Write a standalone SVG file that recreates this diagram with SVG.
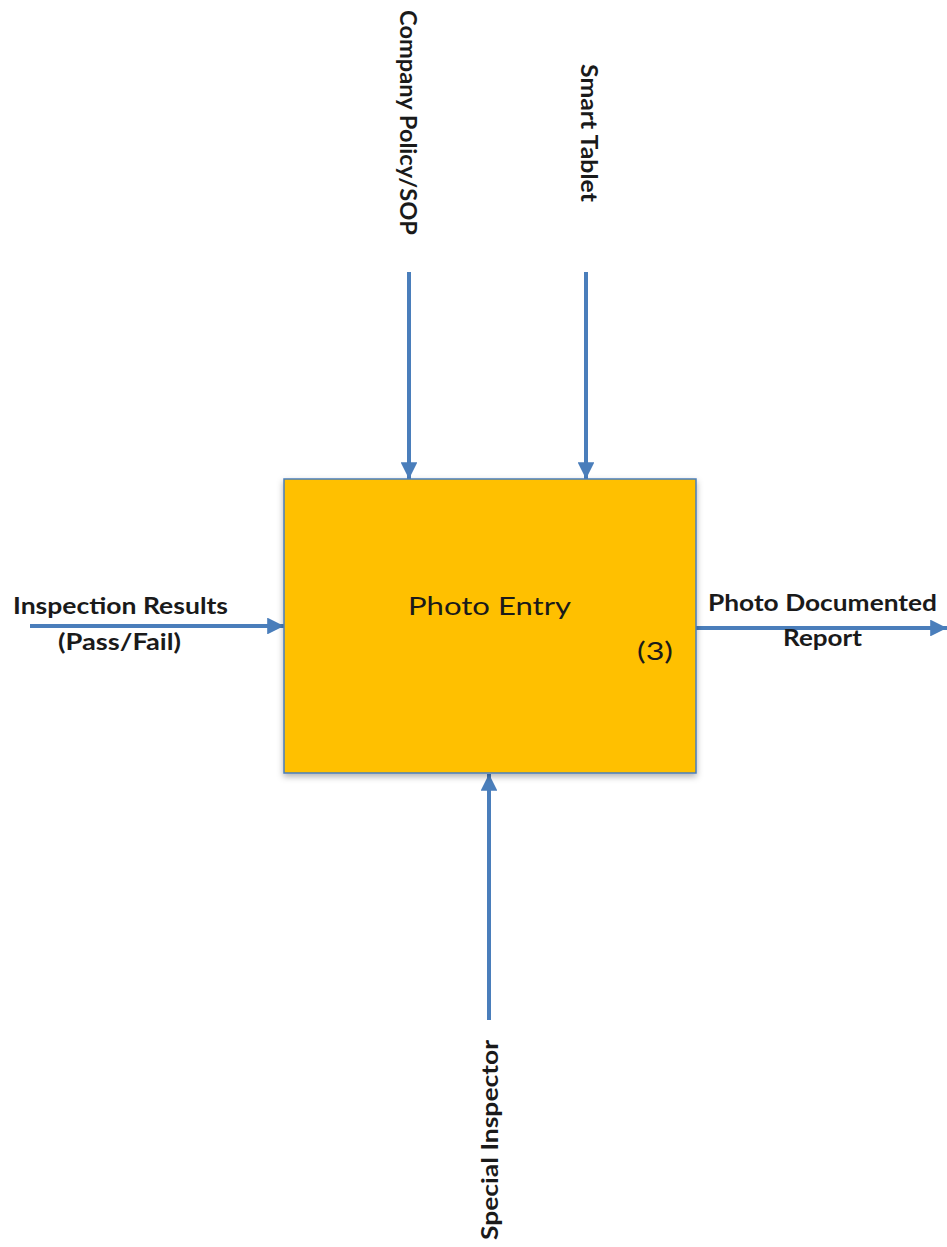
<svg xmlns="http://www.w3.org/2000/svg" width="947" height="1247" viewBox="0 0 947 1247">
<style>
.lbl{font-family:Lato,"Open Sans","Liberation Sans",sans-serif;font-weight:bold;font-size:22.5px;fill:#1a1a1a}
.reg{font-family:Lato,"Open Sans","Liberation Sans",sans-serif;font-size:25px;fill:#1a1a1a}
.conn{stroke:#4A7EBB;stroke-width:4;fill:none}
</style>
<defs>
<marker id="ah" viewBox="0 0 10 10" refX="10" refY="5" markerWidth="4.2" markerHeight="4.2" markerUnits="strokeWidth" orient="auto">
<path d="M0,0 L10,5 L0,10 Z" fill="#4A7EBB"/>
</marker>
<filter id="sh" x="-10%" y="-10%" width="120%" height="130%">
<feDropShadow dx="0" dy="3" stdDeviation="3" flood-color="#000" flood-opacity="0.3"/>
</filter>
</defs>
<g id="connectors">
<line class="conn" x1="409" y1="272" x2="409" y2="479" marker-end="url(#ah)"/>
<line class="conn" x1="586" y1="272" x2="586" y2="479" marker-end="url(#ah)"/>
<line class="conn" x1="30" y1="626" x2="284" y2="626" marker-end="url(#ah)"/>
<line class="conn" x1="696" y1="628" x2="947" y2="628" marker-end="url(#ah)"/>
<line class="conn" x1="489" y1="1020" x2="489" y2="774" marker-end="url(#ah)"/>
</g>
<g id="photo-entry">
<rect x="284" y="479" width="412" height="294" fill="#FFC000" stroke="#4A7EBB" stroke-width="1.5" filter="url(#sh)"/>
<text class="reg" x="408" y="615" textLength="163" lengthAdjust="spacingAndGlyphs">Photo Entry</text>
<text class="reg" x="637" y="660" textLength="36" lengthAdjust="spacingAndGlyphs">(3)</text>
</g>
<g id="label-company-policy">
<text class="lbl" transform="translate(400,10) rotate(90)" textLength="225" lengthAdjust="spacingAndGlyphs">Company Policy/SOP</text>
</g>
<g id="label-smart-tablet">
<text class="lbl" transform="translate(581,64) rotate(90)" textLength="138" lengthAdjust="spacingAndGlyphs">Smart Tablet</text>
</g>
<g id="label-special-inspector">
<text class="lbl" transform="translate(498,1240) rotate(-90)" textLength="200" lengthAdjust="spacingAndGlyphs">Special Inspector</text>
</g>
<g id="label-inspection-results">
<text class="lbl" x="13" y="614" textLength="215" lengthAdjust="spacingAndGlyphs">Inspection Results</text>
<text class="lbl" x="58" y="650" textLength="123" lengthAdjust="spacingAndGlyphs">(Pass/Fail)</text>
</g>
<g id="label-photo-report">
<text class="lbl" x="708" y="611" textLength="229" lengthAdjust="spacingAndGlyphs">Photo Documented</text>
<text class="lbl" x="783" y="646" textLength="79" lengthAdjust="spacingAndGlyphs">Report</text>
</g>
</svg>
